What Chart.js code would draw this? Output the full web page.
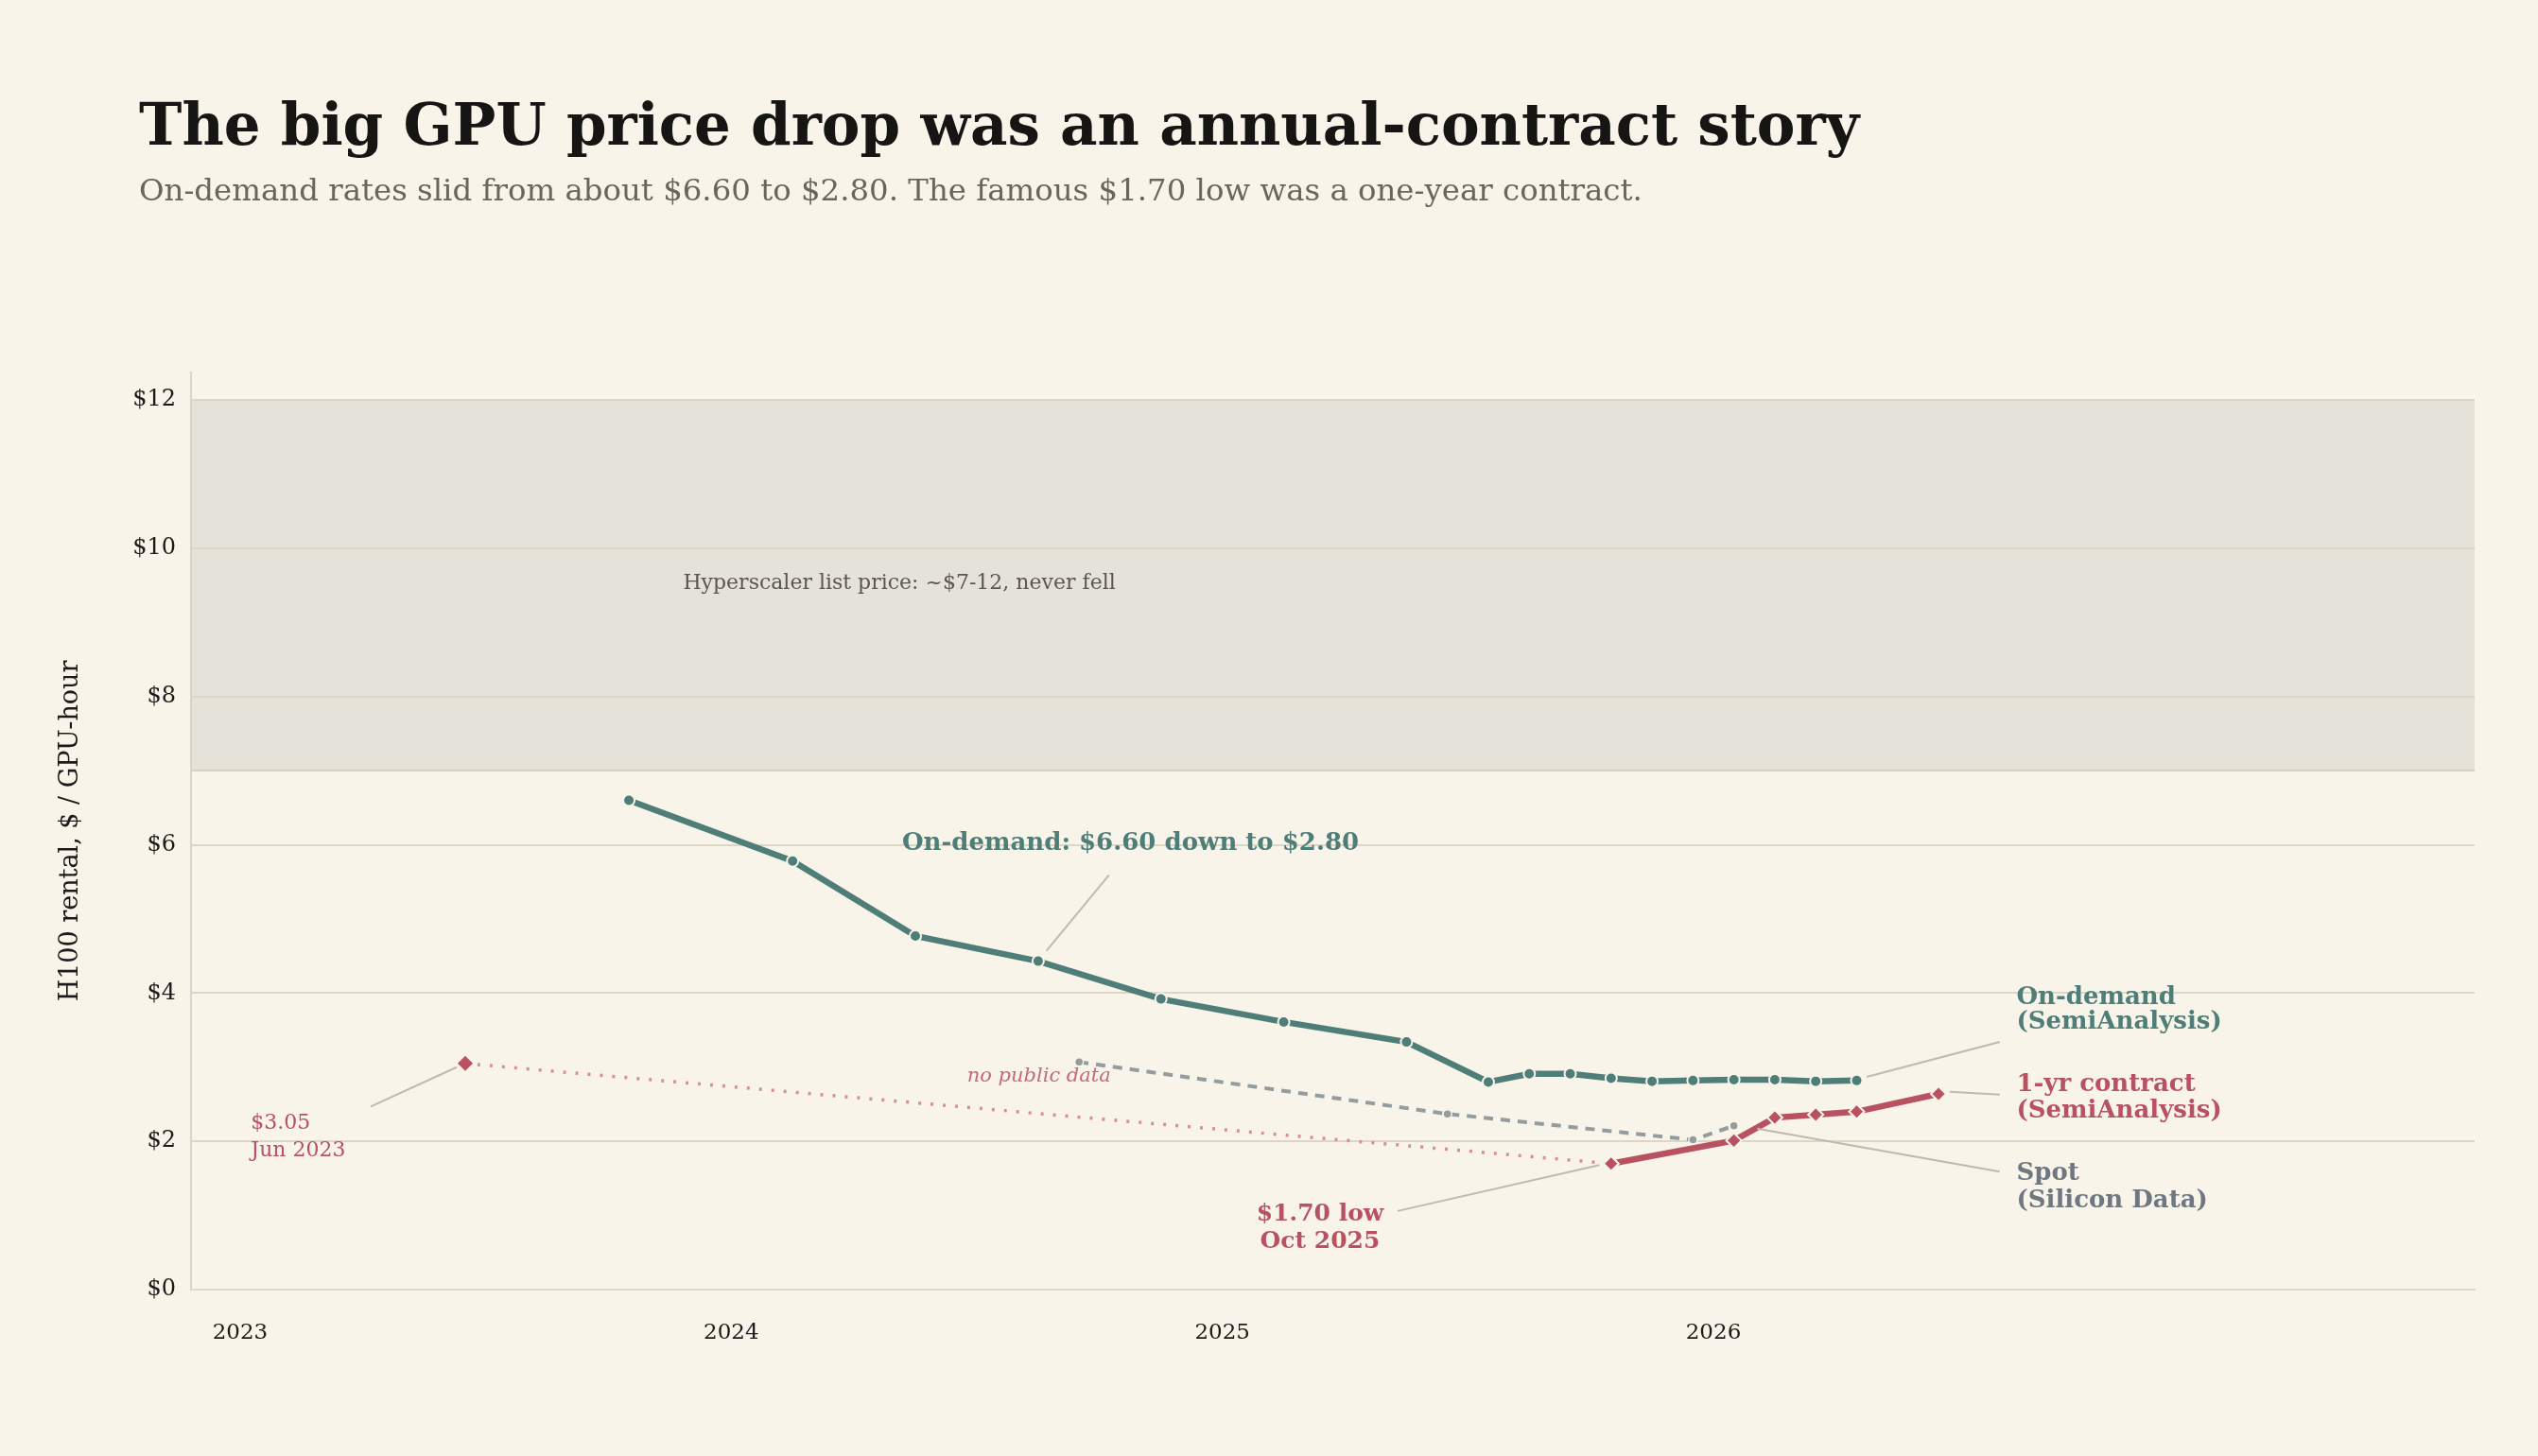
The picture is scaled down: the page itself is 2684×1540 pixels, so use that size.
<!DOCTYPE html>
<html><head><meta charset="utf-8">
<script src="https://cdn.jsdelivr.net/npm/chart.js@4.4.1/dist/chart.umd.min.js"></script>
<style>html,body{margin:0;padding:0;background:#f8f4ea;} #wrap{width:2684px;height:1540px;position:relative}</style>
</head><body><div id="wrap"><canvas id="c" width="2684" height="1540"></canvas></div>
<script>
// ---- data ----
const yearTicks = [2023, 2024, 2025, 2026];
const onDemandDates  = ['2023-10','2024-02','2024-05','2024-08','2024-11','2025-02','2025-05','2025-07','2025-08','2025-09','2025-10','2025-11','2025-12','2026-01','2026-02','2026-03','2026-04'];
const onDemandPrices = [6.60, 5.78, 4.77, 4.43, 3.92, 3.61, 3.34, 2.80, 2.91, 2.91, 2.85, 2.81, 2.82, 2.83, 2.83, 2.81, 2.82];
const contractDates  = ['2025-10','2026-01','2026-02','2026-03','2026-04','2026-06'];
const contractPrices = [1.70, 2.01, 2.32, 2.36, 2.40, 2.64];
const contractGapDates  = ['2023-06','2025-10'];
const contractGapPrices = [3.05, 1.70];
const spotDates  = ['2024-09','2025-06','2025-12','2026-01'];
const spotPrices = [3.07, 2.37, 2.02, 2.21];
const listBand = [7, 12];

// ---- helpers ----
function decYear(s){ const [y,m] = s.split('-').map(Number); return y + (m - 0.5) / 12; }
function pts(dates, vals){ return dates.map((d,i)=>({x:decYear(d), y:vals[i]})); }

const SERIF = '"DejaVu Serif","Liberation Serif",serif';
const BG = '#f8f4ea', TEAL = '#4e7e77', RED = '#b85262', PINK = '#d68f9a', GREY = '#959c9d', LEAD = '#c1b9a9';
const GRID = '#ddd6c6';

const decor = {
  id: 'decor',
  beforeDraw(chart){
    const {ctx, chartArea:a, scales:{y}} = chart;
    ctx.save();
    ctx.fillStyle = BG; ctx.fillRect(0,0,chart.width,chart.height);
    const yt = y.getPixelForValue(listBand[1]), yb = y.getPixelForValue(listBand[0]);
    ctx.fillStyle = '#e5e2da'; ctx.fillRect(a.left, yt, a.right-a.left, yb-yt);
    ctx.strokeStyle = '#d9d3c6'; ctx.lineWidth = 2;
    ctx.beginPath(); ctx.moveTo(a.left, yb); ctx.lineTo(a.right, yb); ctx.stroke();
    ctx.restore();
  },
  afterDraw(chart){
    const {ctx, scales:{x,y}} = chart;
    const X = v => x.getPixelForValue(v), Y = v => y.getPixelForValue(v);
    ctx.save();
    // title & subtitle
    ctx.textBaseline = 'alphabetic'; ctx.textAlign = 'left';
    ctx.fillStyle = '#161513';
    ctx.font = 'bold 61px ' + SERIF;
    ctx.fillText('The big GPU price drop was an annual-contract story', 147, 153);
    ctx.fillStyle = '#6b655a';
    ctx.font = '32.4px ' + SERIF;
    ctx.fillText('On-demand rates slid from about $6.60 to $2.80. The famous $1.70 low was a one-year contract.', 147, 212);

    const lead = (x1,y1,x2,y2) => { ctx.strokeStyle = LEAD; ctx.lineWidth = 2; ctx.beginPath(); ctx.moveTo(X(x1),Y(y1)); ctx.lineTo(X(x2),Y(y2)); ctx.stroke(); };
    const text = (t, xv, yv, font, color, align) => { ctx.font = font; ctx.fillStyle = color; ctx.textAlign = align || 'left'; ctx.textBaseline = 'middle'; ctx.fillText(t, X(xv), Y(yv)); };

    text('Hyperscaler list price: ~$7-12, never fell', 2023.902, 9.52, '22px ' + SERIF, '#5b574f');

    text('On-demand: $6.60 down to $2.80', 2024.813, 6.02, 'bold 26px ' + SERIF, TEAL, 'center');
    lead(2024.769, 5.59, 2024.642, 4.57);

    text('no public data', 2024.773, 2.88, 'italic 21px ' + SERIF, '#c46a78', 'right');

    text('$3.05', 2023.022, 2.245, '22px ' + SERIF, RED);
    text('Jun 2023', 2023.022, 1.875, '22px ' + SERIF, RED);
    lead(2023.266, 2.47, 2023.441, 3.0);

    text('$1.70 low', 2025.199, 1.02, 'bold 25px ' + SERIF, RED, 'center');
    text('Oct 2025', 2025.199, 0.65, 'bold 25px ' + SERIF, RED, 'center');
    lead(2025.357, 1.06, 2025.768, 1.68);

    const lx = 2026.617, lf = 'bold 26px ' + SERIF;
    text('On-demand', lx, 3.94, lf, TEAL);
    text('(SemiAnalysis)', lx, 3.60, lf, TEAL);
    lead(2026.312, 2.87, 2026.583, 3.34);
    text('1-yr contract', lx, 2.77, lf, RED);
    text('(SemiAnalysis)', lx, 2.41, lf, RED);
    lead(2026.481, 2.67, 2026.583, 2.63);
    text('Spot', lx, 1.57, lf, '#6f7880');
    text('(Silicon Data)', lx, 1.20, lf, '#6f7880');
    lead(2026.089, 2.17, 2026.583, 1.59);
    ctx.restore();
  }
};

new Chart(document.getElementById('c'), {
  type: 'line',
  data: {
    datasets: [
      { label: '1-yr contract', data: pts(contractDates, contractPrices), order: 0,
        borderColor: RED, borderWidth: 6.5, pointStyle: 'rectRot', pointRadius: 8,
        pointBackgroundColor: RED, pointBorderColor: BG, pointBorderWidth: 2 },
      { label: 'On-demand', data: pts(onDemandDates, onDemandPrices), order: 1,
        borderColor: TEAL, borderWidth: 6.5, pointStyle: 'circle', pointRadius: 6,
        pointBackgroundColor: TEAL, pointBorderColor: BG, pointBorderWidth: 2 },
      { label: '1-yr gap', data: pts(contractGapDates, contractGapPrices), order: 2,
        borderColor: PINK, borderWidth: 3.5, borderDash: [3, 10], borderCapStyle: 'butt',
        pointStyle: 'rectRot', pointRadius: [8, 0], pointBackgroundColor: RED, pointBorderColor: RED, pointBorderWidth: 0 },
      { label: 'Spot', data: pts(spotDates, spotPrices), order: 3,
        borderColor: GREY, borderWidth: 4, borderDash: [10, 8],
        pointStyle: 'circle', pointRadius: 4.5, pointBackgroundColor: GREY, pointBorderColor: BG, pointBorderWidth: 1.5 }
    ]
  },
  options: {
    responsive: false, animation: false, devicePixelRatio: 1,
    layout: { padding: { left: 55, right: 67, top: 394, bottom: 116 } },
    plugins: { legend: { display: false }, tooltip: { enabled: false } },
    elements: { line: { tension: 0 } },
    scales: {
      x: {
        type: 'linear', min: 2022.9, max: 2027.55,
        grid: { display: false },
        border: { display: true, color: '#e0d9cb', width: 2 },
        afterBuildTicks: ax => { ax.ticks = yearTicks.map(v => ({ value: v })); },
        afterFit: ax => { ax.height = 60; },
        ticks: { callback: v => String(v), font: { family: SERIF, size: 23 }, color: '#1c1b19', padding: 24, maxRotation: 0 }
      },
      y: {
        min: 0, max: 12.37,
        grid: { color: GRID, lineWidth: 2, drawTicks: false },
        border: { display: true, color: '#dcd5c6', width: 2 },
        afterFit: ax => { ax.width = 147; },
        ticks: { stepSize: 2, includeBounds: false, callback: v => '$' + v, font: { family: SERIF, size: 24 }, color: '#1c1b19', padding: 16 },
        title: { display: true, text: 'H100 rental, $ / GPU-hour', font: { family: SERIF, size: 27 }, color: '#1c1b19' }
      }
    }
  },
  plugins: [decor]
});
</script></body></html>
